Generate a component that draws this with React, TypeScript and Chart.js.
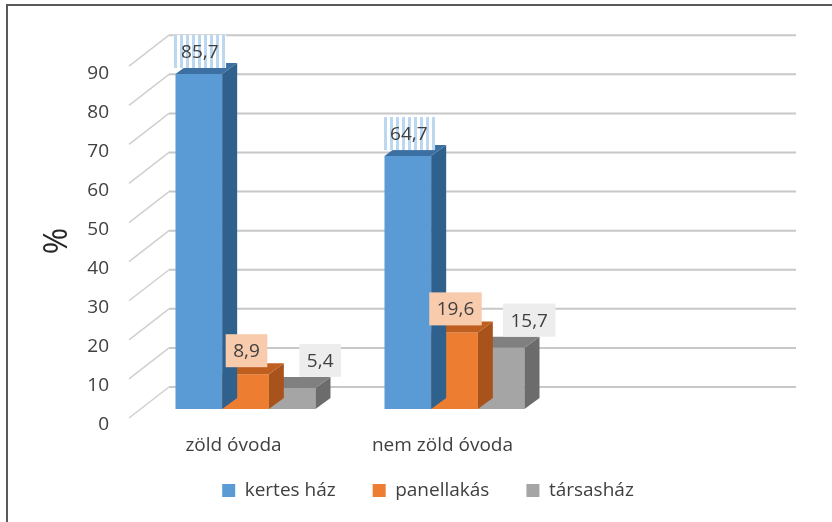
import React, { useEffect, useRef } from 'react';
import { Chart, registerables } from 'chart.js';

Chart.register(...registerables);

// ---- data ----
const categories = ['zöld óvoda', 'nem zöld óvoda', ''];
const seriesNames = ['kertes ház', 'panellakás', 'társasház'];
const kertesHaz: (number | null)[] = [85.7, 64.7, null];
const panellakas: (number | null)[] = [8.9, 19.6, null];
const tarsashaz: (number | null)[] = [5.4, 15.7, null];
const yMin = 0;
const yMax = 90;
const yStep = 10;

// ---- styles ----
const FONT = '"Open Sans", "Noto Sans", sans-serif';
const FS = 19;
const frontColors = ['#5B9BD5', '#ED7D31', '#A5A5A5'];
const sideColors = ['#30608C', '#A8531B', '#6C6C6C'];
const topColors = ['#3D70A2', '#BF5F1F', '#808080'];
const labelBgs = ['stripes', '#F8CBAD', '#EDEDED'];
const labelDX = [1, 1, 28];
const labelGap = [6, 7, 11];

const DX = 15, DY = -11; // bar depth
const BACK_DX = 28, BACK_DY = -22; // back wall relative to bar plane
const FRONT_DX = -12, FRONT_DY = 9; // front edge relative to bar plane

function poly(ctx: CanvasRenderingContext2D, pts: number[][]) {
  ctx.beginPath();
  ctx.moveTo(pts[0][0], pts[0][1]);
  for (let k = 1; k < pts.length; k++) ctx.lineTo(pts[k][0], pts[k][1]);
  ctx.closePath();
  ctx.fill();
}

function makeStripes(ctx: CanvasRenderingContext2D) {
  const c = document.createElement('canvas');
  c.width = 6;
  c.height = 4;
  const g = c.getContext('2d')!;
  g.fillStyle = '#ffffff';
  g.fillRect(0, 0, 6, 4);
  g.fillStyle = '#BCD7F0';
  g.fillRect(0, 0, 3, 4);
  return ctx.createPattern(c, 'repeat');
}

const threeD = {
  id: 'threeD',
  beforeDraw(chart: any) {
    const ctx: CanvasRenderingContext2D = chart.ctx;
    ctx.save();
    ctx.fillStyle = '#ffffff';
    ctx.fillRect(0, 0, chart.width, chart.height);
    ctx.strokeStyle = '#595959';
    ctx.lineWidth = 2;
    ctx.strokeRect(7, 5, chart.width + 40, chart.height + 40);
    // axis title
    ctx.translate(58, 241);
    ctx.rotate(-Math.PI / 2);
    ctx.font = `32px ${FONT}`;
    ctx.fillStyle = '#262626';
    ctx.textAlign = 'center';
    ctx.textBaseline = 'middle';
    ctx.fillText('%', 0, 0);
    ctx.restore();

    const y = chart.scales.y;
    const { left, right } = chart.chartArea;
    ctx.save();
    y.ticks.forEach((t: any) => {
      const py = y.getPixelForValue(t.value);
      ctx.strokeStyle = '#c8c8c8';
      ctx.lineWidth = 2;
      ctx.beginPath();
      ctx.moveTo(left + BACK_DX, py + BACK_DY);
      ctx.lineTo(right + BACK_DX, py + BACK_DY);
      ctx.stroke();
      ctx.strokeStyle = '#d0d0d0';
      ctx.lineWidth = 1.5;
      ctx.beginPath();
      ctx.moveTo(left + FRONT_DX, py + FRONT_DY);
      ctx.lineTo(left + BACK_DX, py + BACK_DY);
      ctx.stroke();
    });
    ctx.restore();
  },
  afterDatasetDraw(chart: any, args: any) {
    const ctx: CanvasRenderingContext2D = chart.ctx;
    const i = args.index;
    const data = chart.data.datasets[i].data;
    ctx.save();
    args.meta.data.forEach((bar: any, j: number) => {
      if (data[j] == null) return;
      const { x, y, base, width } = bar.getProps(['x', 'y', 'base', 'width'], true);
      const l = x - width / 2, r = x + width / 2;
      ctx.fillStyle = sideColors[i];
      poly(ctx, [[r, y], [r + DX, y + DY], [r + DX, base + DY], [r, base]]);
      ctx.fillStyle = topColors[i];
      poly(ctx, [[l, y], [l + DX, y + DY], [r + DX, y + DY], [r, y]]);
    });
    ctx.restore();
  },
  afterDraw(chart: any) {
    const ctx: CanvasRenderingContext2D = chart.ctx;
    ctx.save();
    ctx.font = `${FS}px ${FONT}`;
    ctx.textAlign = 'center';
    ctx.textBaseline = 'middle';
    chart.data.datasets.forEach((ds: any, i: number) => {
      const meta = chart.getDatasetMeta(i);
      meta.data.forEach((bar: any, j: number) => {
        const v = ds.data[j];
        if (v == null) return;
        const { x, y } = bar.getProps(['x', 'y'], true);
        const text = String(v).replace('.', ',');
        const tw = ctx.measureText(text).width;
        const bw = tw + 15, bh = 33;
        const cx = x + labelDX[i];
        const bottom = y - labelGap[i];
        ctx.fillStyle = labelBgs[i] === 'stripes' ? (makeStripes(ctx) as any) : labelBgs[i];
        ctx.fillRect(cx - bw / 2, bottom - bh, bw, bh);
        ctx.fillStyle = '#404040';
        ctx.fillText(text, cx, bottom - bh / 2 + 1);
      });
    });
    ctx.restore();
  },
};

export default function App() {
  const ref = useRef<HTMLCanvasElement>(null);
  useEffect(() => {
    if (!ref.current) return;
    const series = [kertesHaz, panellakas, tarsashaz];
    const chart = new Chart(ref.current, {
      type: 'bar',
      data: {
        labels: categories,
        datasets: series.map((d, i) => ({
          label: seriesNames[i],
          data: d,
          backgroundColor: frontColors[i],
          borderWidth: 0,
          categoryPercentage: 0.67,
          barPercentage: 1,
          yAxisID: 'y',
        })),
      },
      options: {
        responsive: false,
        animation: false,
        layout: { padding: { left: 24, right: 0, top: 57.2, bottom: 12 } },
        plugins: {
          tooltip: { enabled: false },
          legend: {
            position: 'bottom',
            labels: {
              boxWidth: 13,
              boxHeight: 13,
              padding: 37,
              color: '#404040',
              font: { size: FS, family: FONT },
            },
          },
        },
        scales: {
          x: {
            grid: { display: false, drawTicks: false },
            border: { display: false },
            ticks: { font: { size: FS, family: FONT }, color: '#404040', mirror: true, padding: -48, labelOffset: -12 },
            afterFit: (s: any) => { s.height = 35; },
          },
          y: {
            min: yMin,
            max: yMax,
            grid: { display: false, drawTicks: false },
            border: { display: false },
            ticks: { stepSize: yStep, padding: 32, labelOffset: 16, font: { size: FS, family: FONT }, color: '#404040' },
            afterFit: (s: any) => { s.width = 117; },
          },
          y2: {
            position: 'right',
            grid: { display: false, drawTicks: false },
            border: { display: false },
            ticks: { display: false },
            afterFit: (s: any) => { s.width = 64; },
          },
        },
      },
      plugins: [threeD],
    } as any);
    return () => chart.destroy();
  }, []);
  return (
    <div style={{ position: 'absolute', left: 0, top: 0, width: 832, height: 522 }}>
      <canvas ref={ref} width={832} height={522} style={{ display: 'block' }} />
    </div>
  );
}
